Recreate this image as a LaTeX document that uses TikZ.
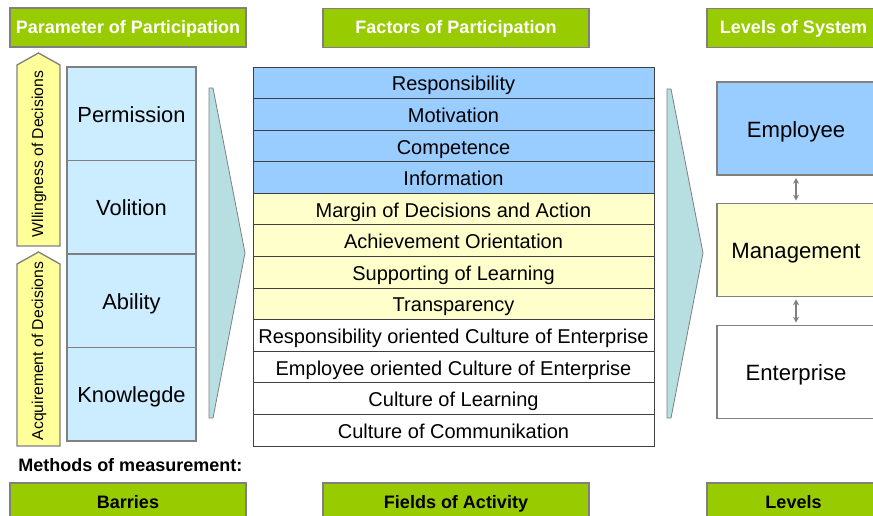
\documentclass[tikz,border=0pt]{standalone}
\usepackage{fontspec}
\setmainfont{Liberation Sans}
\usepackage{tikz}
\usetikzlibrary{arrows.meta}

\definecolor{hdrgreen}{RGB}{153,204,0}
\definecolor{edgegray}{RGB}{128,128,128}
\definecolor{parblue}{RGB}{204,236,255}
\definecolor{rowblue}{RGB}{153,204,255}
\definecolor{rowyellow}{RGB}{255,255,204}
\definecolor{tagyellow}{RGB}{255,255,153}
\definecolor{flowteal}{RGB}{183,222,224}

\begin{document}
\begin{tikzpicture}[x=0.75pt, y=-0.75pt,
  hdr/.style={draw=edgegray, line width=1.2pt, fill=hdrgreen, text=white, font=\bfseries\fontsize{13.5}{16}\selectfont, minimum height=29.25pt, inner sep=0pt, text height=11.2pt, text depth=2.8pt},
  foot/.style={hdr, text=black},
  parbox/.style={draw=edgegray, line width=1pt, fill=parblue, minimum width=96.75pt, minimum height=70.1pt, font=\fontsize{16.4}{19}\selectfont, inner sep=0pt, text height=16.3pt, text depth=3.5pt},
  facrow/.style={draw=black!75, line width=0.7pt, minimum width=300.75pt, minimum height=23.69pt, font=\fontsize{15}{17}\selectfont, inner sep=0pt, text height=15.3pt, text depth=3.2pt},
  lvlbox/.style={draw=edgegray, line width=1.2pt, minimum width=118.5pt, minimum height=69.75pt, font=\fontsize{16.6}{19}\selectfont, inner sep=0pt, text height=16.4pt, text depth=3.5pt},
  tagtext/.style={rotate=90, font=\fontsize{11.8}{14}\selectfont, inner sep=0pt, text height=8.5pt, text depth=2.5pt},
  flow/.style={draw=edgegray, fill=flowteal, line width=0.6pt},
  tag/.style={draw=edgegray, fill=tagyellow, line width=1pt},
  link/.style={{Stealth[length=4.5pt,width=4.5pt]}-{Stealth[length=4.5pt,width=4.5pt]}, draw=edgegray, line width=1.3pt, shorten <=1.5pt, shorten >=1.5pt}]
\useasboundingbox (0,0) rectangle (873,516);

% headers
\node[hdr, minimum width=177pt] (hpar) at (128,27.5) {Parameter of Participation};
\node[hdr, minimum width=199.5pt] (hfac) at (456,28) {Factors of Participation};
\node[hdr, minimum width=129.75pt] (hlvl) at (793.5,28) {Levels of System};

% left column
\draw[tag] (17,65) -- (38.5,53) -- (60,65) -- (60,246) -- (17,246) -- cycle;
\draw[tag] (17,264) -- (38.5,252) -- (60,264) -- (60,446) -- (17,446) -- cycle;
\node[tagtext] (twill) at (39,154) {Wllingness of Decisions};
\node[tagtext] (tacq) at (39,351) {Acquirement of Decisions};
\foreach \lab [count=\i] in {Permission,Volition,Ability,Knowlegde}
  \node[parbox] (par\i) at (131.5,{67+(\i-0.5)*93.5}) {\lab};

\draw[flow] (209,88) -- (213,88) -- (245,253) -- (213,418) -- (209,418) -- cycle;

% factors
\foreach \lab/\col [count=\i] in {Responsibility/rowblue, Motivation/rowblue, Competence/rowblue, Information/rowblue,
    Margin of Decisions and Action/rowyellow, Achievement Orientation/rowyellow, Supporting of Learning/rowyellow, Transparency/rowyellow,
    Responsibility oriented Culture of Enterprise/white, Employee oriented Culture of Enterprise/white, Culture of Learning/white, Culture of Communikation/white}
  \node[facrow, fill=\col] (fac\i) at (453.5,{67+(\i-0.5)*31.583}) {\lab};

\draw[flow] (667,89) -- (671,89) -- (703,253) -- (671,418) -- (667,418) -- cycle;

% levels
\node[lvlbox, fill=rowblue] (emp) at (796,128.5) {Employee};
\node[lvlbox, fill=rowyellow] (man) at (796,250) {Management};
\node[lvlbox, fill=white] (ent) at (796,372) {Enterprise};
\draw[link] (emp.south) -- (man.north);
\draw[link] (man.south) -- (ent.north);

% measurement
\node[anchor=west, inner sep=0pt, font=\bfseries\fontsize{13.5}{16}\selectfont] (meth) at (18,465) {Methods of measurement:};
\node[foot, minimum width=177pt] (mbar) at (128,502.5) {Barries};
\node[foot, minimum width=199.5pt] (mfld) at (456,502.5) {Fields of Activity};
\node[foot, minimum width=129.75pt] (mlvl) at (793.5,502.5) {Levels};
\end{tikzpicture}
\end{document}
